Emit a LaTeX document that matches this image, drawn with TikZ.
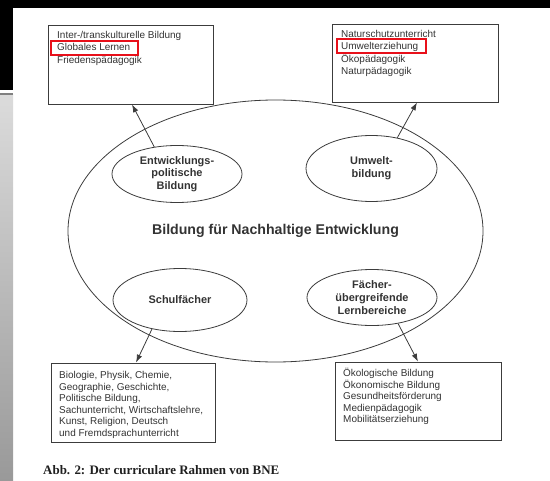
\documentclass[tikz,border=0pt]{standalone}
\usepackage{fontspec}
\setmainfont{Liberation Sans}
\newfontfamily\capfont{Liberation Serif}
\usetikzlibrary{shapes.geometric,arrows.meta}
\definecolor{ink}{HTML}{333333}
\definecolor{lineink}{HTML}{3C3C3C}
\definecolor{markred}{HTML}{E8101A}
\begin{document}
\begin{tikzpicture}[x=1bp,y=-1bp,
  box/.style={draw=lineink, line width=0.8bp, inner sep=0pt, rectangle},
  boxtext/.style={anchor=north west, inner sep=0pt, align=left, text=ink,
    font=\fontsize{10}{12.2}\selectfont},
  smalltext/.style={anchor=north west, inner sep=0pt, align=left, text=ink,
    font=\fontsize{10}{11.5}\selectfont},
  blob/.style={ellipse, draw=lineink, line width=0.8bp, fill=white, inner sep=0pt,
    align=center, text=ink, font=\bfseries\fontsize{11}{12.8}\selectfont},
  link/.style={draw=lineink, line width=0.8bp, -{Latex[length=8bp,width=5.5bp]}},
  redmark/.style={draw=markred, line width=2bp, inner sep=0pt, rectangle},
]
\useasboundingbox (0,0) rectangle (550,481);
% scan frame
\fill[black] (0,0) rectangle (550,8);
\fill[black] (0,0) rectangle (13,90);
\shade[top color=black!14, bottom color=black!40] (0,95) rectangle (13,481);
\fill[black!50] (0,93.5) rectangle (13,95.5);

% big ellipse with title
\node[ellipse, draw=lineink, line width=0.8bp, inner sep=0pt,
      minimum width=415bp, minimum height=262bp, text=ink,
      font=\bfseries\fontsize{14.2}{16}\selectfont] (bne) at (275.5,231)
      {Bildung für Nachhaltige Entwicklung};

% small ellipses
\node[blob, minimum width=130bp, minimum height=57bp] (ent) at (177,174)
  {Entwicklungs-\\politische\\Bildung};
\node[blob, minimum width=131bp, minimum height=66bp] (um) at (371.5,168.5)
  {Umwelt-\\bildung};
\node[blob, minimum width=134bp, minimum height=63bp] (sf) at (180,300)
  {Schulfächer};
\node[blob, minimum width=130bp, minimum height=56bp] (fu) at (372,297.5)
  {Fächer-\\übergreifende\\Lernbereiche};

% boxes
\node[box, minimum width=165bp, minimum height=79bp] (tl) at (130.5,64.5) {};
\node[box, minimum width=166bp, minimum height=78bp] (tr) at (415,63) {};
\node[box, minimum width=164bp, minimum height=79bp] (bl) at (133,402.5) {};
\node[box, minimum width=166bp, minimum height=78bp] (br) at (418,401) {};

% box texts
\node[boxtext] (tltext) at (57,29.6)
  {\rule{0pt}{9bp}Inter-/transkulturelle Bildung\\Globales Lernen\\Friedenspädagogik};
\node[boxtext] (trtext) at (341,28.6)
  {\rule{0pt}{9bp}Naturschutzunterricht\\Umwelterziehung\\Ökopädagogik\\Naturpädagogik};
\node[smalltext] (bltext) at (59,369.6)
  {\rule{0pt}{9bp}Biologie, Physik, Chemie,\\Geographie, Geschichte,\\Politische Bildung,\\Sachunterricht, Wirtschaftslehre,\\Kunst, Religion, Deutsch\\und Fremdsprachunterricht};
\node[smalltext] (brtext) at (343,367.6)
  {\rule{0pt}{9bp}Ökologische Bildung\\Ökonomische Bildung\\Gesundheitsförderung\\Medienpädagogik\\Mobilitätserziehung};

% red highlight marks
\node[redmark, minimum width=87bp, minimum height=14bp] (mark1) at (94.5,48) {};
\node[redmark, minimum width=89bp, minimum height=14bp] (mark2) at (381.5,46) {};

% connectors
\draw[link] (ent.130) -- ([xshift=1.5bp]tl.south);
\draw[link] (um.50) -- ([xshift=2bp]tr.south);
\draw[link] (sf.226) -- ([xshift=3bp]bl.north);
\draw[link] (fu.315) -- (br.north);

% caption
\node[anchor=west, inner sep=0pt, text=black!88,
      font=\capfont\bfseries\fontsize{13}{15}\selectfont] (cap) at (43,470)
  {Abb. 2: Der curriculare Rahmen von BNE};
\end{tikzpicture}
\end{document}
